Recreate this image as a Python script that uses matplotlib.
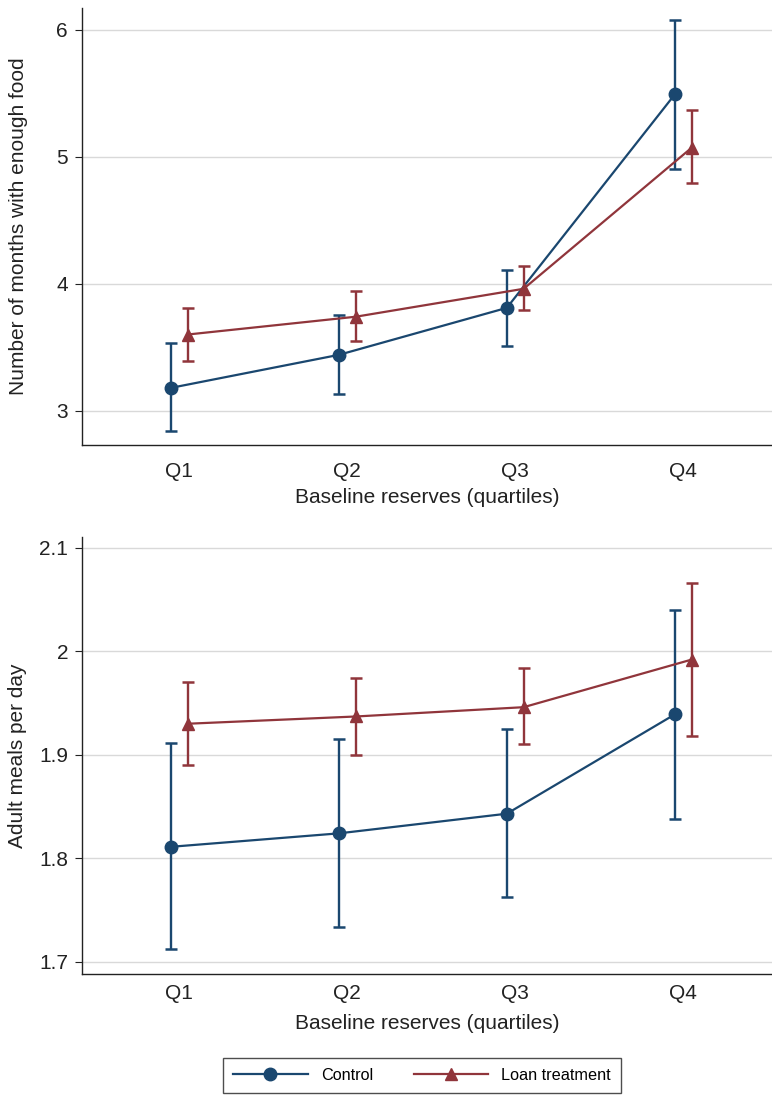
import numpy as np
import matplotlib
matplotlib.use("Agg")
import matplotlib.pyplot as plt
from matplotlib.lines import Line2D

plt.rcParams["font.family"] = ["Liberation Sans", "DejaVu Sans"]

NAVY   = "#1a476f"
MAROON = "#90353b"
GRID   = "#d9d9d9"
INK    = "#222222"

QUARTILES = ["Q1", "Q2", "Q3", "Q4"]

# months with enough food
months_ctrl    = [3.18, 3.44, 3.81, 5.49]
months_ctrl_lo = [2.84, 3.13, 3.51, 4.90]
months_ctrl_hi = [3.53, 3.75, 4.11, 6.08]
months_loan    = [3.60, 3.74, 3.96, 5.07]
months_loan_lo = [3.39, 3.55, 3.79, 4.79]
months_loan_hi = [3.81, 3.94, 4.14, 5.37]

# adult meals per day
meals_ctrl    = [1.811, 1.824, 1.843, 1.939]
meals_ctrl_lo = [1.712, 1.733, 1.762, 1.838]
meals_ctrl_hi = [1.911, 1.915, 1.925, 2.040]
meals_loan    = [1.930, 1.937, 1.946, 1.992]
meals_loan_lo = [1.890, 1.900, 1.910, 1.918]
meals_loan_hi = [1.970, 1.974, 1.984, 2.066]

FS = 15


def draw_panel(ax, ctrl, clo, chi, loan, llo, lhi, ylabel, yticks, ylim,
               xpad, ylab_x, xlab_y):
    x = np.arange(1, len(QUARTILES) + 1)
    off = 0.05
    for vals, lo, hi, xs, col, mk in [
        (ctrl, clo, chi, x - off, NAVY, "o"),
        (loan, llo, lhi, x + off, MAROON, "^"),
    ]:
        vals, lo, hi = map(np.array, (vals, lo, hi))
        ax.errorbar(xs, vals, yerr=[vals - lo, hi - vals], fmt="none",
                    ecolor=col, elinewidth=1.7, capsize=4, capthick=1.8,
                    zorder=3)
        ax.plot(xs, vals, color=col, lw=1.6, marker=mk, ms=9, zorder=4)

    ax.set_xlim(0.42, 4.53)
    ax.set_ylim(*ylim)
    ax.set_xticks(x)
    ax.set_xticklabels(QUARTILES)
    ax.set_yticks(yticks)
    ax.set_yticklabels([f"{t:g}" for t in yticks])
    ax.tick_params(axis="x", length=0, pad=xpad, labelsize=FS, colors=INK)
    ax.tick_params(axis="y", length=5, width=0.8, pad=5, labelsize=FS,
                   colors=INK)
    ax.grid(axis="y", color=GRID, lw=1)
    ax.set_axisbelow(True)
    for s in ["top", "right"]:
        ax.spines[s].set_visible(False)
    for s in ["left", "bottom"]:
        ax.spines[s].set_color(INK)
        ax.spines[s].set_linewidth(1)
    ax.set_ylabel(ylabel, fontsize=FS, color=INK)
    ax.yaxis.set_label_coords(ylab_x, 0.5)
    ax.set_xlabel("Baseline reserves (quartiles)", fontsize=FS, color=INK)
    ax.xaxis.set_label_coords(0.5, xlab_y)


fig = plt.figure(figsize=(7.72, 10.95), dpi=100, facecolor="white")
ax1 = fig.add_axes([0.1062, 0.5936, 0.894, 0.399])
ax2 = fig.add_axes([0.1062, 0.1105, 0.894, 0.3995])

draw_panel(ax1, months_ctrl, months_ctrl_lo, months_ctrl_hi,
           months_loan, months_loan_lo, months_loan_hi,
           "Number of months with enough food", [3, 4, 5, 6], (2.73, 6.17),
           12, -0.078, -0.098)
draw_panel(ax2, meals_ctrl, meals_ctrl_lo, meals_ctrl_hi,
           meals_loan, meals_loan_lo, meals_loan_hi,
           "Adult meals per day", [1.7, 1.8, 1.9, 2.0, 2.1], (1.688, 2.111),
           7.5, -0.080, -0.091)

handles = [
    Line2D([], [], color=NAVY, lw=1.6, marker="o", ms=9),
    Line2D([], [], color=MAROON, lw=1.6, marker="^", ms=9),
]
leg = fig.legend(handles, ["Control", "Loan treatment"], loc="upper center",
                 bbox_to_anchor=(0.5465, 1 - 1058 / 1095), ncol=2,
                 fontsize=11.7, frameon=True, fancybox=False, edgecolor=INK,
                 handlelength=4.6, columnspacing=2.5, handletextpad=0.8,
                 borderpad=0.6, borderaxespad=0)
leg.get_frame().set_linewidth(1)

fig.savefig("out.png", dpi=100, facecolor="white")
